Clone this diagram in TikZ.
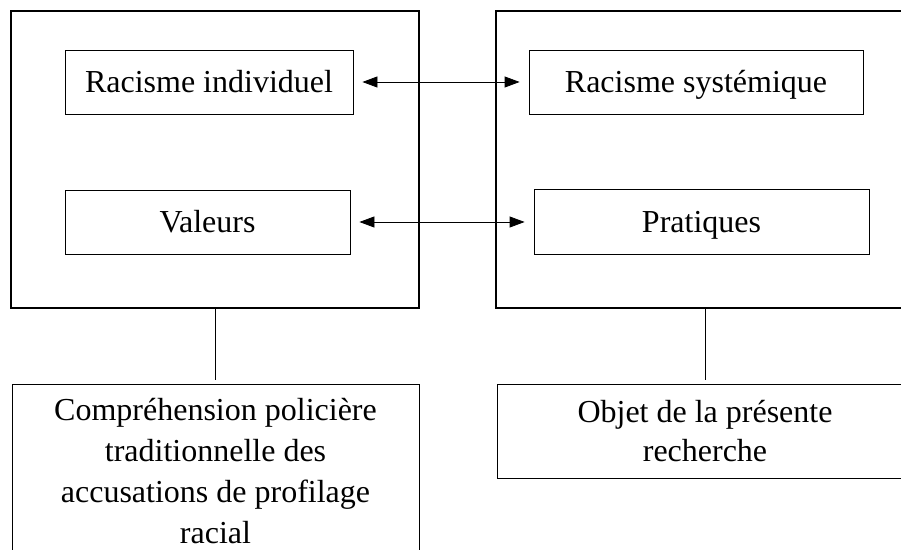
\documentclass[tikz,border=0pt]{standalone}
\usepackage{fontspec}
\setmainfont{Liberation Serif}
\usetikzlibrary{arrows.meta}

\tikzset{
    cadre/.style={draw, line width=2pt, inner sep=0pt},
    boite/.style={draw, line width=0.8pt, inner sep=0pt, font=\fontsize{32}{39}\selectfont},
    ligne/.style={boite, text height=22pt, text depth=0pt},
    lien/.style={line width=0.8pt},
    double fleche/.style={lien, {Triangle[length=15pt,width=11pt]}-{Triangle[length=15pt,width=11pt]}, shorten <=9pt, shorten >=9pt}
}

\begin{document}
\begin{tikzpicture}[x=1pt, y=1pt]
    \useasboundingbox (0, 0) rectangle (901, 549);
    \clip (0, 0) rectangle (901, 549);

    \node[cadre, minimum width=408, minimum height=297] (gauche) at (215, 389.5) {};
    \node[cadre, minimum width=418, minimum height=297] (droite) at (705, 389.5) {};

    \node[ligne, minimum width=288, minimum height=64] (indiv) at (209, 467) {Racisme individuel};
    \node[ligne, minimum width=285, minimum height=64] (val) at (207.5, 327) {Valeurs};
    \node[ligne, minimum width=334, minimum height=64] (syst) at (696, 467) {Racisme systémique};
    \node[ligne, minimum width=335, minimum height=65] (prat) at (701.5, 327) {Pratiques};

    \draw[double fleche] (indiv) -- (syst);
    \draw[double fleche] (val) -- (prat);

    \node[boite, font=\fontsize{32}{41}\selectfont, anchor=north, minimum width=407, minimum height=173, align=center] (compr) at (215.5, 165)
        {Compréhension policière\\traditionnelle des\\accusations de profilage\\racial};
    \node[boite, minimum width=416, minimum height=94, align=center] (objet) at (705, 118)
        {Objet de la présente\\recherche};

    \draw[lien, shorten >=4pt] (gauche.south) -- (gauche.south |- compr.north);
    \draw[lien, shorten >=4pt] (droite.south) -- (objet.north);

\end{tikzpicture}
\end{document}
